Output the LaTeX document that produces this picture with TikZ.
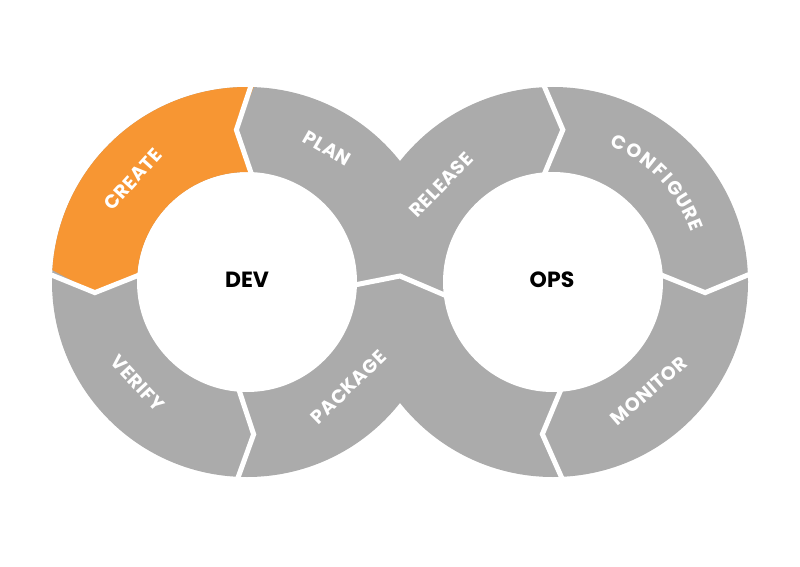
\documentclass[tikz,border=0pt]{standalone}
\usepackage{fontspec}
\setmainfont{Poppins}
\newfontfamily\lblfont[LetterSpace=3]{Poppins}
\newfontfamily\hubfont{Poppins}
\usetikzlibrary{calc}
\definecolor{bandgray}{RGB}{171,171,171}
\definecolor{bandorange}{RGB}{247,150,51}
\tikzset{
  divider/.style={draw=white, line width=5pt, line join=miter},
  lbl/.style={text=white, inner sep=0pt, font=\lblfont\bfseries\fontsize{19}{19}\selectfont},
  ltr/.style={text=white, inner sep=0pt, font=\hubfont\bfseries\fontsize{19}{19}\selectfont},
  hub/.style={text=black, inner sep=0pt, font=\hubfont\bfseries\fontsize{22}{22}\selectfont}
}
\begin{document}
\begin{tikzpicture}[x=1pt,y=1pt]
\useasboundingbox (0,0) rectangle (800,566);
\coordinate (L) at (247,284);
\coordinate (R) at (553,284);
% band: union of two outer discs minus the inner discs
\fill[bandgray] (L) circle[radius=195pt] (R) circle[radius=195pt];
\fill[white] (L) circle[radius=110pt] (R) circle[radius=110pt];
% CREATE segment
\fill[bandorange] ($(L)+(88:195pt)$) arc[start angle=88, end angle=176.5, radius=195pt]
  -- ($(L)+(184:152.5pt)$) -- ($(L)+(176.5:110pt)$)
  arc[start angle=176.5, end angle=88, radius=110pt]
  -- ($(L)+(94:152.5pt)$) -- cycle;
% dividers, left ring
\draw[divider] ($(L)+(88.5:200pt)$) -- ($(L)+(94:152.5pt)$) -- ($(L)+(87:105pt)$);
\draw[divider] ($(L)+(177.5:200pt)$) -- ($(L)+(184:152.5pt)$) -- ($(L)+(175.5:105pt)$);
\draw[divider] ($(L)+(267:200pt)$) -- ($(L)+(272.5:152.5pt)$) -- ($(L)+(265:105pt)$);
% dividers, right ring
\draw[divider] ($(R)+(93:200pt)$) -- ($(R)+(86.3:152.5pt)$) -- ($(R)+(95.5:105pt)$);
\draw[divider] ($(R)+(2.6:200pt)$) -- ($(R)+(-4:152.5pt)$) -- ($(R)+(4.6:105pt)$);
\draw[divider] ($(R)+(-87:200pt)$) -- ($(R)+(-94:152.5pt)$) -- ($(R)+(-85:105pt)$);
% central divider
\coordinate (cl) at (352,280.5);
\coordinate (ca) at (400,290);
\coordinate (cr) at (448,269.5);
\draw[divider] (cl) -- (ca) -- (cr);
% hub labels
\node[hub] (dev) at (247,286) {DEV};
\node[hub] (ops) at (552,286) {OPS};
% segment labels
\node[lbl, rotate=48] (create) at ($(L)+(138:153.5pt)$) {CREATE};
\node[lbl, rotate=-30] (plan) at ($(L)+(59:156pt)$) {PLAN};
\node[lbl, rotate=-47] (verify) at ($(L)+(222.8:149pt)$) {VERIFY};
\node[lbl, rotate=44] (package) at ($(L)+(-46:146pt)$) {PACKAGE};
\node[lbl, rotate=46] (release) at ($(R)+(139:148pt)$) {RELEASE};
\node[lbl, rotate=41] (monitor) at ($(R)+(-48.6:145pt)$) {MONITOR};
\foreach \ch/\ang [count=\i] in {C/64.5,O/58.3,N/51.8,F/46.3,I/42.2,G/37.6,U/31.8,R/26.6,E/21.8}
  \node[ltr, rotate=\ang-90] (cfg\i) at ($(R)+(\ang:154pt)$) {\ch};
\end{tikzpicture}
\end{document}
